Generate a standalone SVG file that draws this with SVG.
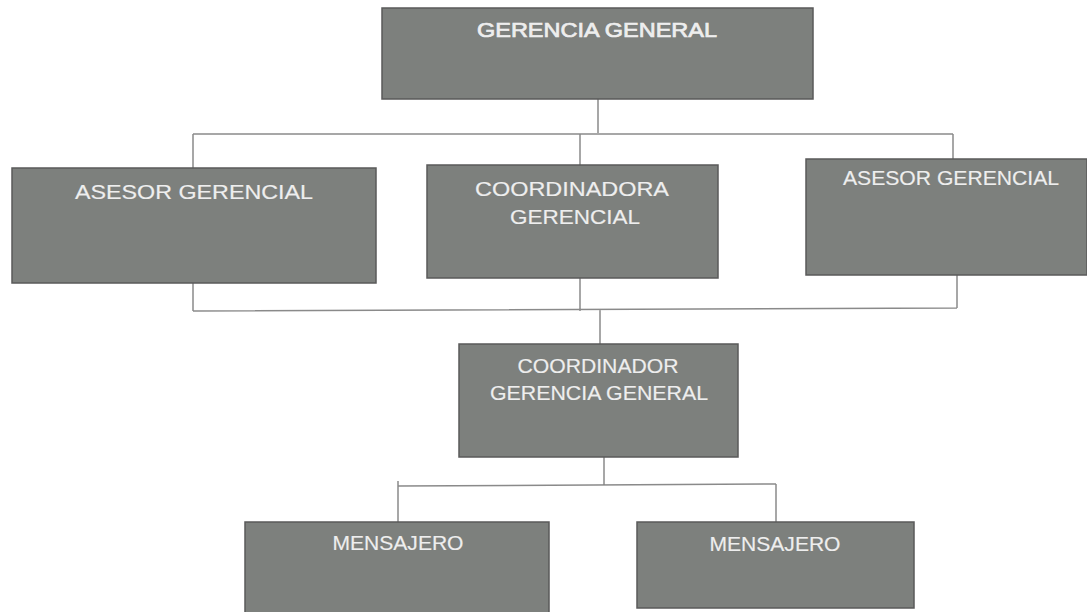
<svg xmlns="http://www.w3.org/2000/svg" width="1087" height="612" viewBox="0 0 1087 612">
<style>
.box{fill:#7d807d;stroke:#5a5a5a;stroke-width:1.5}
.lbl{font-family:"Liberation Sans",Arial,sans-serif;font-size:20px;fill:#eeeeee;stroke:#eeeeee;stroke-width:0.15;text-anchor:middle}
.title{stroke-width:0.7}
.conn{stroke:#8a8a8a;stroke-width:1.5;fill:none}
</style>
<rect width="1087" height="612" fill="#ffffff"/>
<g id="connectors">
<path class="conn" d="M598 99 V133 M193 134 H953 M193 134 V168 M580 134 V165 M953 134 V159"/>
<path class="conn" d="M193 283 V311 M580 278 V311 M957 275 V308 M193 311 L957 308 M600 310 V344"/>
<path class="conn" d="M604 457 V485 M398 486 L776 484 M398 481 V522 M776 484 V522"/>
</g>
<g id="n-gerencia-general">
<rect class="box" x="382" y="8" width="431" height="91"/>
<text class="lbl title" x="597" y="37" textLength="240" lengthAdjust="spacingAndGlyphs">GERENCIA GENERAL</text>
</g>
<g id="n-asesor-izq">
<rect class="box" x="12" y="168" width="364" height="115"/>
<text class="lbl" x="194" y="199" textLength="238" lengthAdjust="spacingAndGlyphs">ASESOR GERENCIAL</text>
</g>
<g id="n-coordinadora">
<rect class="box" x="427" y="165" width="291" height="113"/>
<text class="lbl" x="572" y="196" textLength="194" lengthAdjust="spacingAndGlyphs">COORDINADORA</text>
<text class="lbl" x="575" y="224" textLength="130" lengthAdjust="spacingAndGlyphs">GERENCIAL</text>
</g>
<g id="n-asesor-der">
<rect class="box" x="806" y="159" width="281" height="116"/>
<text class="lbl" x="951" y="185" textLength="216" lengthAdjust="spacingAndGlyphs">ASESOR GERENCIAL</text>
</g>
<g id="n-coordinador">
<rect class="box" x="459" y="344" width="279" height="113"/>
<text class="lbl" x="598" y="373" textLength="161" lengthAdjust="spacingAndGlyphs">COORDINADOR</text>
<text class="lbl" x="599" y="400" textLength="218" lengthAdjust="spacingAndGlyphs">GERENCIA GENERAL</text>
</g>
<g id="n-mensajero-1">
<rect class="box" x="245" y="522" width="304" height="95"/>
<text class="lbl" x="398" y="550" textLength="131" lengthAdjust="spacingAndGlyphs">MENSAJERO</text>
</g>
<g id="n-mensajero-2">
<rect class="box" x="637" y="522" width="277" height="86"/>
<text class="lbl" x="775" y="551" textLength="131" lengthAdjust="spacingAndGlyphs">MENSAJERO</text>
</g>
</svg>
